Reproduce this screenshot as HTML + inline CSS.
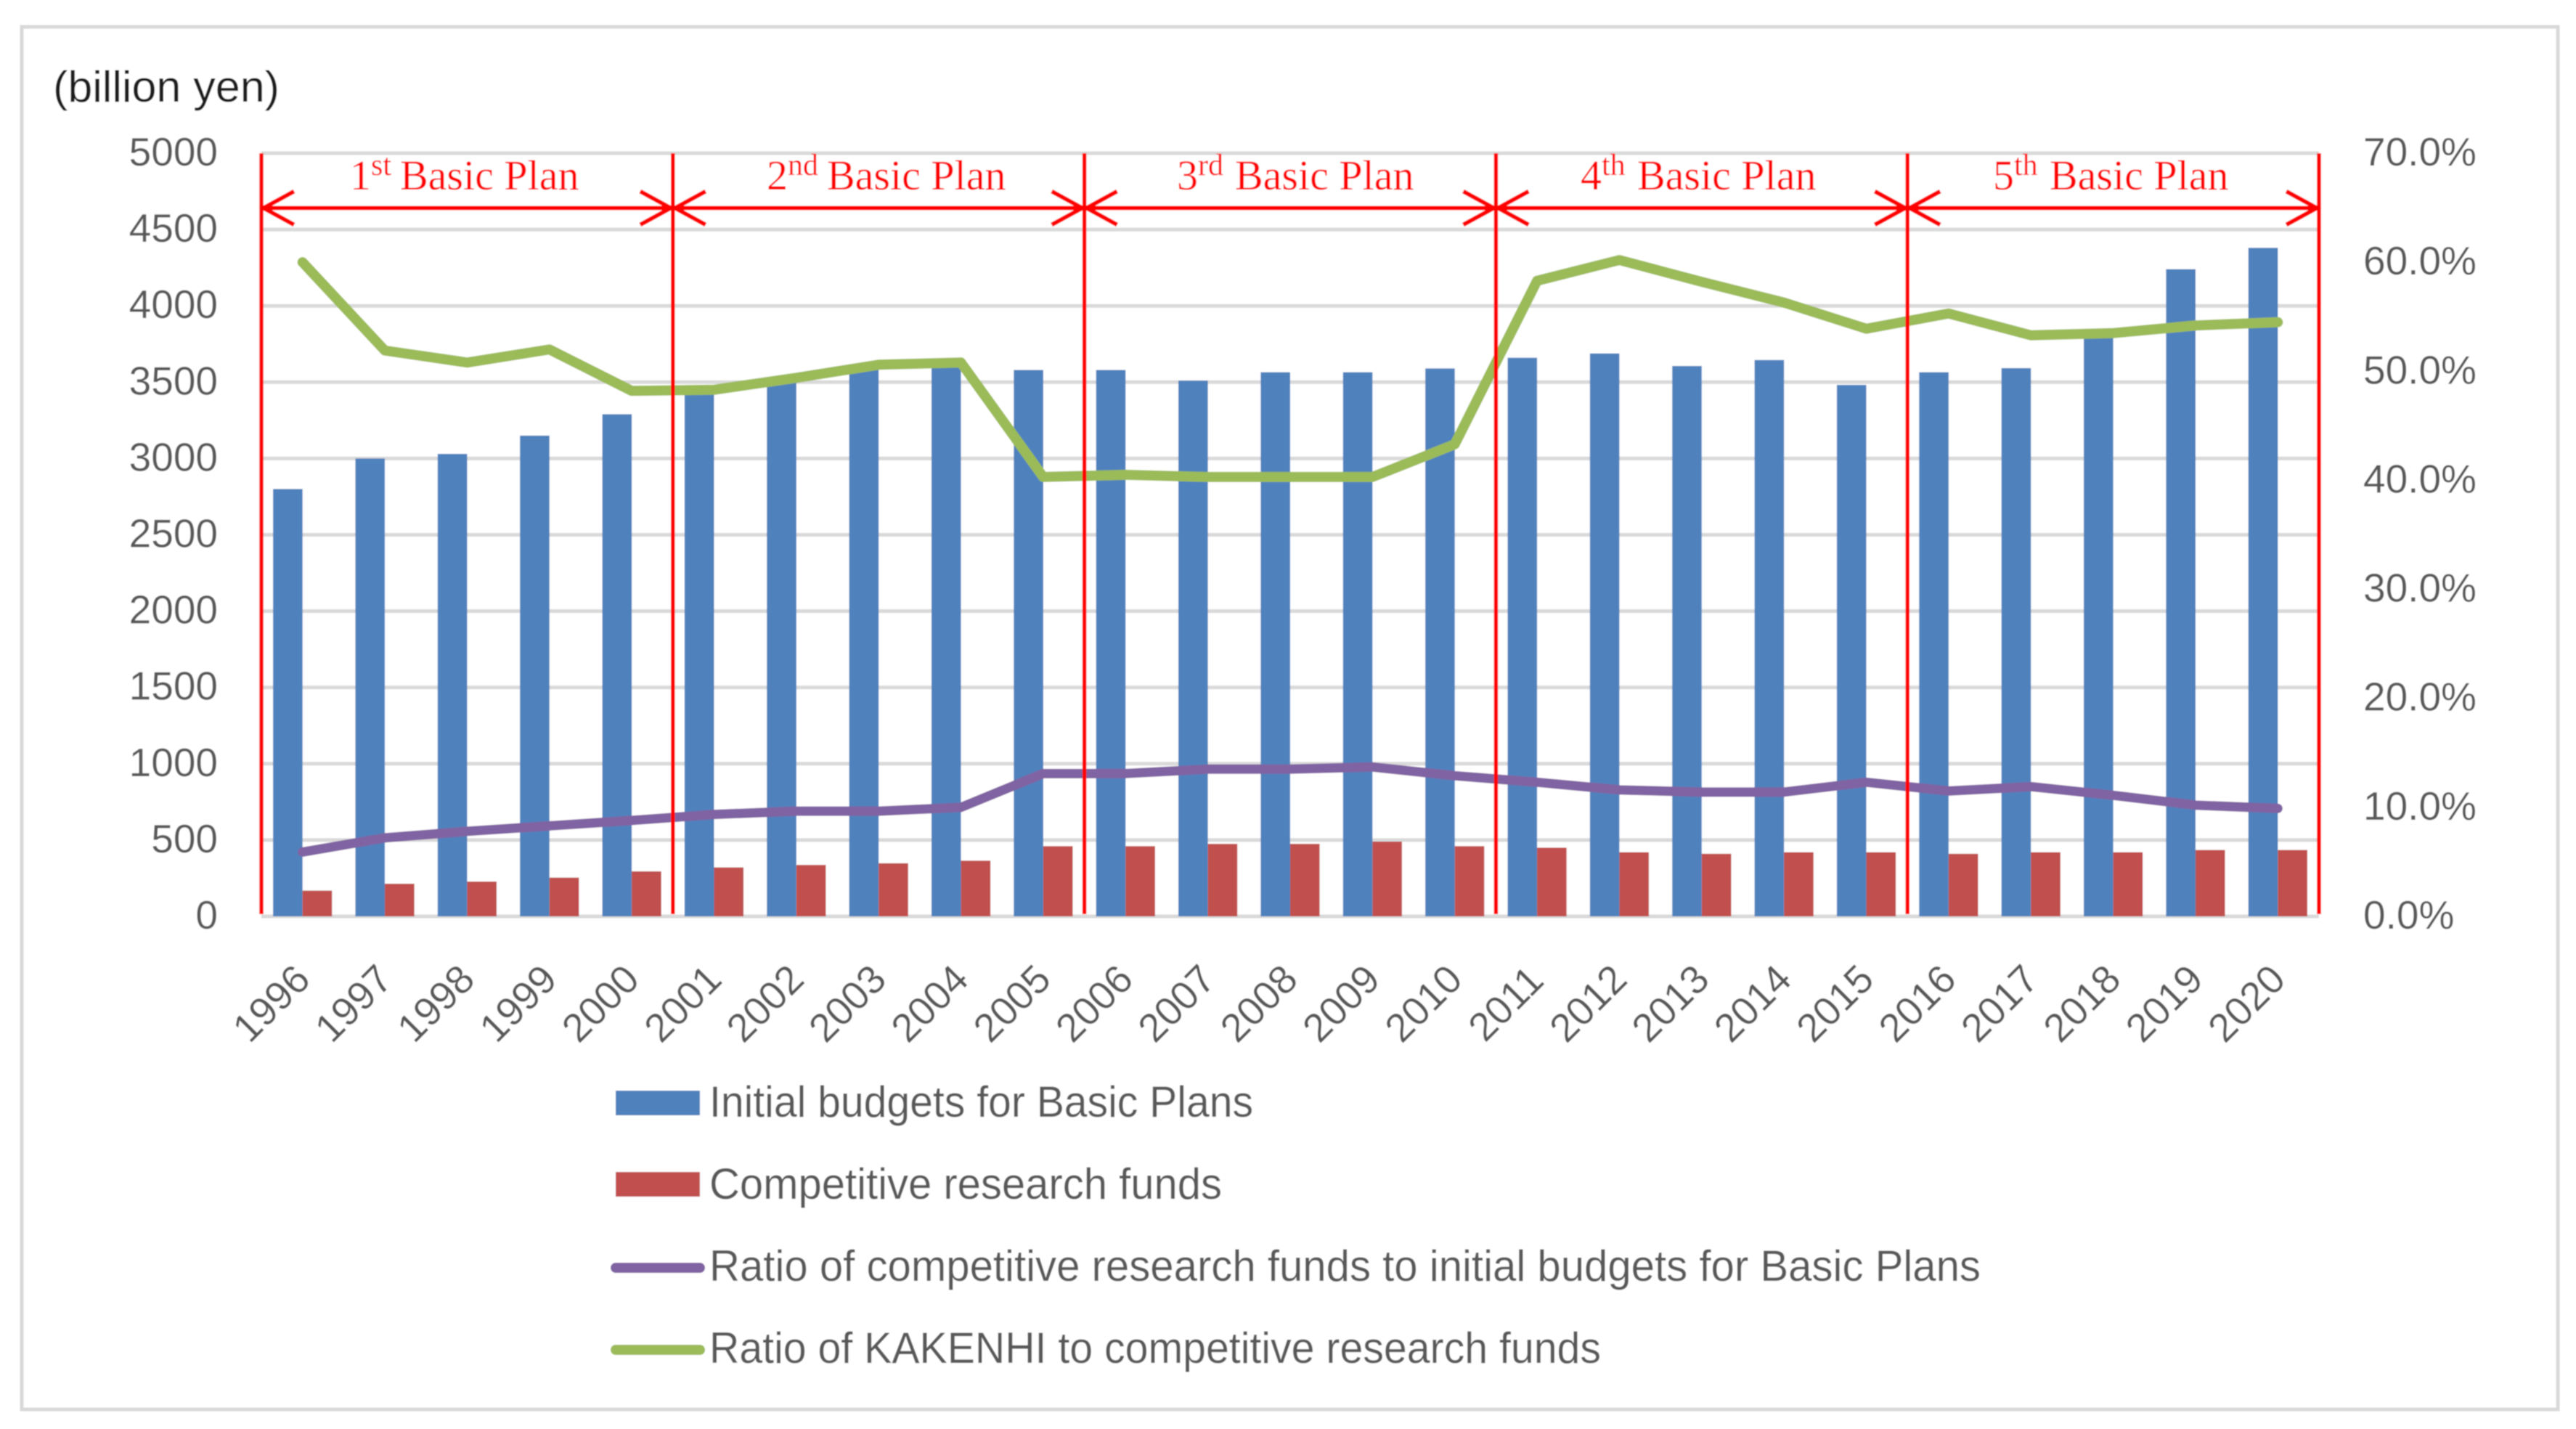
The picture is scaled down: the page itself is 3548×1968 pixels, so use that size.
<!DOCTYPE html>
<html lang="en">
<head>
<meta charset="utf-8">
<title>Initial budgets and competitive research funds, 1996–2020</title>
<style>
  html, body { margin: 0; padding: 0; background: #fff; width: 3548px; height: 1968px; overflow: hidden; }
  svg { display: block; }
  .tick { font-family: "Liberation Sans", sans-serif; font-size: 55px; fill: #595959; }
  .legend-text { font-family: "Liberation Sans", sans-serif; font-size: 60px; fill: #595959; }
  .plan { font-family: "Liberation Serif", serif; font-size: 58px; fill: #ff0000; }
  .sup { font-size: 42px; }
</style>
</head>
<body>
<svg id="chart" xmlns="http://www.w3.org/2000/svg" width="3548" height="1968" viewBox="0 0 3548 1968">
  <defs>
    <filter id="soft" x="-2%" y="-2%" width="104%" height="104%"><feGaussianBlur stdDeviation="0.9"/></filter>
  </defs>
  <g filter="url(#soft)">
    <rect x="30" y="37" width="3493" height="1904" fill="#ffffff" stroke="#d9d9d9" stroke-width="5"/>
    <text x="73" y="140" font-family="Liberation Sans, sans-serif" font-size="60" fill="#1a1a1a" textLength="312" lengthAdjust="spacingAndGlyphs">(billion yen)</text>
    <g id="grid"></g>
    <g id="bars"></g>
    <g id="lines"></g>
    <g id="leftTicks"></g>
    <g id="rightTicks"></g>
    <g id="xTicks"></g>
    <g id="plans"></g>

    <text class="plan" x="482" y="261">1<tspan class="sup" dy="-20">st</tspan><tspan dy="20" x="551">Basic Plan</tspan></text>
    <text class="plan" x="1056" y="261">2<tspan class="sup" dy="-20">nd</tspan><tspan dy="20" x="1139">Basic Plan</tspan></text>
    <text class="plan" x="1621" y="261">3<tspan class="sup" dy="-20">rd</tspan><tspan dy="20" x="1701">Basic Plan</tspan></text>
    <text class="plan" x="2177" y="261">4<tspan class="sup" dy="-20">th</tspan><tspan dy="20" x="2255">Basic Plan</tspan></text>
    <text class="plan" x="2745" y="261">5<tspan class="sup" dy="-20">th</tspan><tspan dy="20" x="2823">Basic Plan</tspan></text>

    <g>
      <g>
        <rect x="848" y="1502" width="116" height="34" fill="#4f81bd"/>
        <text class="legend-text" x="977" y="1538" textLength="749" lengthAdjust="spacingAndGlyphs">Initial budgets for Basic Plans</text>
      </g>
      <g>
        <rect x="848" y="1614" width="116" height="34" fill="#c0504d"/>
        <text class="legend-text" x="977" y="1651" textLength="706" lengthAdjust="spacingAndGlyphs">Competitive research funds</text>
      </g>
      <g>
        <line x1="848" y1="1746" x2="964" y2="1746" stroke="#8064a2" stroke-width="14" stroke-linecap="round"/>
        <text class="legend-text" x="977" y="1764" textLength="1751" lengthAdjust="spacingAndGlyphs">Ratio of competitive research funds to initial budgets for Basic Plans</text>
      </g>
      <g>
        <line x1="848" y1="1859" x2="964" y2="1859" stroke="#9bbb59" stroke-width="14" stroke-linecap="round"/>
        <text class="legend-text" x="977" y="1877" textLength="1228" lengthAdjust="spacingAndGlyphs">Ratio of KAKENHI to competitive research funds</text>
      </g>
    </g>
  </g>
</svg>

<script>
const years = ["1996","1997","1998","1999","2000","2001","2002","2003","2004","2005","2006","2007","2008","2009","2010","2011","2012","2013","2014","2015","2016","2017","2018","2019","2020"];
const initialBudgets = [2800,3000,3030,3150,3290,3480,3500,3600,3620,3580,3580,3510,3565,3565,3590,3660,3688,3606,3645,3482,3565,3592,3830,4240,4380];
const competitiveFunds = [169,214,228,254,295,321,337,348,365,460,460,475,475,490,460,450,420,410,420,420,410,420,420,435,435];
const competitiveRatio = [5.9,7.2,7.8,8.3,8.8,9.35,9.65,9.65,10.0,13.1,13.1,13.5,13.5,13.7,12.9,12.3,11.6,11.4,11.4,12.3,11.5,11.9,11.1,10.2,9.9];
const kakenhiRatio = [60.0,51.9,50.8,52.0,48.2,48.3,49.4,50.6,50.8,40.3,40.5,40.3,40.3,40.3,43.3,58.3,60.2,58.2,56.3,53.9,55.3,53.3,53.5,54.2,54.5];
const leftTickValues = [0,500,1000,1500,2000,2500,3000,3500,4000,4500,5000];
const rightTickValues = [0,10,20,30,40,50,60,70];
const planStartYears = ["1996","2001","2006","2011","2016"];

const NS = "http://www.w3.org/2000/svg";
const plotLeft = 360, plotRight = 3194, plotTop = 211, plotBottom = 1262;
const leftMax = 5000, rightMax = 70;
const band = (plotRight - plotLeft) / years.length;
const barWidth = 40.6;

function xCenter(i) { return plotLeft + band * (i + 0.5); }
function yLeft(v) { return plotBottom - (v / leftMax) * (plotBottom - plotTop); }
function yRight(p) { return plotBottom - (p / rightMax) * (plotBottom - plotTop); }
function el(tag, parent) {
  const e = document.createElementNS(NS, tag);
  parent.appendChild(e);
  return e;
}

const grid = document.getElementById("grid");
leftTickValues.forEach(function (v) {
  const l = el("line", grid);
  
  
  l.setAttribute("x1", plotLeft);
  l.setAttribute("x2", plotRight);
  l.setAttribute("y1", yLeft(v));
  l.setAttribute("y2", yLeft(v));
  l.setAttribute("stroke", "#d9d9d9");
  l.setAttribute("stroke-width", 5);
});

const leftTicks = document.getElementById("leftTicks");
leftTickValues.forEach(function (v) {
  const t = el("text", leftTicks);
  
  
  t.setAttribute("class", "tick");
  t.setAttribute("x", 300);
  t.setAttribute("y", yLeft(v) + 17);
  t.setAttribute("text-anchor", "end");
  t.textContent = String(v);
});

const rightTicks = document.getElementById("rightTicks");
rightTickValues.forEach(function (p) {
  const t = el("text", rightTicks);
  
  
  t.setAttribute("class", "tick");
  t.setAttribute("x", 3255);
  t.setAttribute("y", yRight(p) + 17);
  t.textContent = p.toFixed(1) + "%";
});

const xTicks = document.getElementById("xTicks");
years.forEach(function (y, i) {
  const t = el("text", xTicks);
  
  
  t.setAttribute("class", "tick");
  t.setAttribute("text-anchor", "middle");
  t.setAttribute("transform", "translate(" + (xCenter(i) - 44) + ",1381) rotate(-45)");
  t.setAttribute("y", 20);
  t.textContent = y;
});

const bars = document.getElementById("bars");
years.forEach(function (y, i) {
  const b = el("rect", bars);
  
  
  b.setAttribute("x", xCenter(i) - barWidth);
  b.setAttribute("width", barWidth);
  b.setAttribute("y", yLeft(initialBudgets[i]));
  b.setAttribute("height", plotBottom - yLeft(initialBudgets[i]));
  b.setAttribute("fill", "#4f81bd");

  const r = el("rect", bars);
  
  
  r.setAttribute("x", xCenter(i));
  r.setAttribute("width", barWidth);
  r.setAttribute("y", yLeft(competitiveFunds[i]));
  r.setAttribute("height", plotBottom - yLeft(competitiveFunds[i]));
  r.setAttribute("fill", "#c0504d");
});

const lines = document.getElementById("lines");
function polyPoints(values) {
  return values.map(function (p, i) { return xCenter(i) + "," + yRight(p); }).join(" ");
}
const purple = el("polyline", lines);


purple.setAttribute("points", polyPoints(competitiveRatio));
purple.setAttribute("fill", "none");
purple.setAttribute("stroke", "#8064a2");
purple.setAttribute("stroke-width", 13);
purple.setAttribute("stroke-linecap", "round");
purple.setAttribute("stroke-linejoin", "round");

const green = el("polyline", lines);


green.setAttribute("points", polyPoints(kakenhiRatio));
green.setAttribute("fill", "none");
green.setAttribute("stroke", "#9bbb59");
green.setAttribute("stroke-width", 14);
green.setAttribute("stroke-linecap", "round");
green.setAttribute("stroke-linejoin", "round");

const plans = document.getElementById("plans");
const arrowY = 286.5, headBack = 42, headHalf = 23;
const planEdges = planStartYears.map(function (y) { return plotLeft + band * years.indexOf(y); }).concat([plotRight]);

planEdges.forEach(function (x) {
  const v = el("line", plans);
  
  
  v.setAttribute("x1", x);
  v.setAttribute("x2", x);
  v.setAttribute("y1", plotTop);
  v.setAttribute("y2", plotBottom - 3);
  v.setAttribute("stroke", "#ff0000");
  v.setAttribute("stroke-width", 5.5);
});

planStartYears.forEach(function (y, k) {
  const a = planEdges[k] + 3, b = planEdges[k + 1] - 3;
  const arrow = el("path", plans);
  
  
  arrow.setAttribute("d",
    "M" + a + " " + arrowY + "H" + b +
    "M" + (a + headBack) + " " + (arrowY - headHalf) + "L" + a + " " + arrowY + "L" + (a + headBack) + " " + (arrowY + headHalf) +
    "M" + (b - headBack) + " " + (arrowY - headHalf) + "L" + b + " " + arrowY + "L" + (b - headBack) + " " + (arrowY + headHalf));
  arrow.setAttribute("fill", "none");
  arrow.setAttribute("stroke", "#ff0000");
  arrow.setAttribute("stroke-width", 6);
});
</script>
</body>
</html>
